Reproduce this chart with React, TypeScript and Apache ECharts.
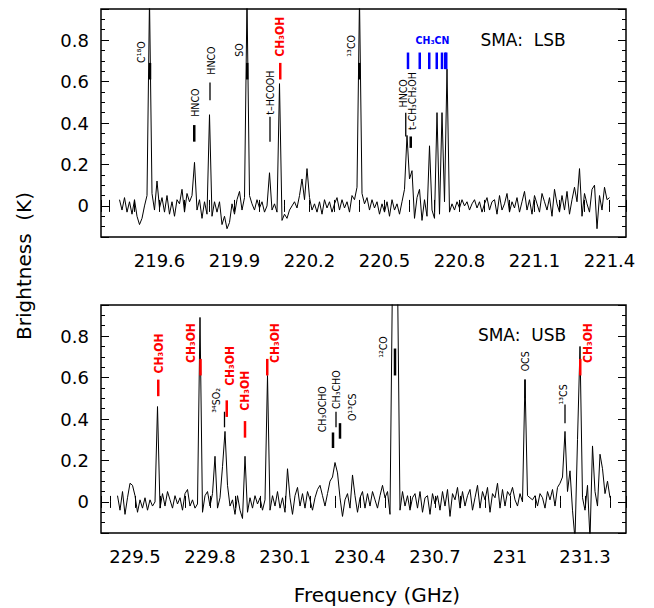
import React, { useEffect, useRef } from 'react';
import * as echarts from 'echarts';

// ---------------- data ----------------
const STEP = 0.01; // GHz per channel
const LSB_START = 219.44;
const USB_START = 229.43;

const LSB_VALUES = [
  0.03, -0.02, 0.04, -0.03, 0.02, -0.04, 0.03, -0.05, -0.09, -0.06,
  0.00, 0.05, 1.00, 0.06, -0.02, 0.12, -0.01, 0.04, -0.03, 0.05,
  -0.04, 0.02, -0.05, 0.03, 0.01, 0.08, -0.03, 0.06, 0.02, 0.05,
  0.21, -0.02, 0.03, -0.06, 0.02, -0.04, 0.44, -0.05, 0.02, -0.03,
  0.02, -0.09, -0.05, -0.11, -0.08, 0.01, -0.04, 0.03, 0.07, -0.02,
  0.04, 1.00, 0.05, 0.01, -0.02, 0.03, -0.01, 0.02, -0.03, 0.00,
  0.16, -0.02, 0.01, -0.03, 0.59, -0.07, -0.04, -0.06, -0.02, 0.00,
  0.02, -0.01, 0.05, 0.13, 0.03, 0.18, 0.04, -0.02, 0.01, -0.03,
  0.02, -0.04, 0.03, -0.01, 0.02, -0.03, 0.01, 0.04, -0.02, 0.03,
  -0.01, 0.02, -0.03, 0.05, 0.03, 0.09, 1.00, 0.06, 0.01, 0.04,
  -0.02, 0.03, -0.01, 0.02, -0.04, 0.01, -0.03, 0.02, -0.05, 0.03,
  -0.02, 0.01, -0.04, 0.02, 0.08, 0.34, 0.13, 0.17, -0.06, 0.04,
  0.08, -0.07, 0.03, -0.05, 0.29, -0.02, -0.06, 0.45, -0.04, 0.45,
  0.02, 0.66, -0.03, 0.01, -0.02, 0.02, -0.01, 0.03, 0.00, 0.02,
  -0.02, 0.01, 0.03, -0.01, 0.02, -0.03, 0.01, 0.04, -0.02, 0.02,
  0.03, -0.04, 0.05, -0.02, 0.01, 0.06, -0.03, 0.02, -0.01, 0.04,
  -0.03, 0.02, 0.07, -0.02, 0.03, -0.04, 0.05, 0.01, -0.03, 0.06,
  0.02, -0.02, 0.04, -0.05, 0.08, 0.01, -0.03, 0.05, -0.02, 0.07,
  -0.04, 0.03, 0.09, 0.02, 0.18, -0.05, 0.06, 0.01, -0.03, 0.08,
  0.10, -0.11, 0.05, -0.02, 0.09, 0.03, 0.04,
];

const USB_VALUES = [
  0.03, -0.04, 0.05, -0.06, 0.02, 0.09, 0.08, 0.03, -0.05, 0.01,
  -0.03, 0.02, -0.04, 0.01, -0.02, 0.00, 0.46, -0.03, 0.04, -0.02,
  0.05, 0.01, -0.03, 0.03, -0.01, 0.02, -0.04, 0.04, 0.06, -0.02,
  0.01, -0.03, -0.01, 0.89, -0.05, 0.03, 0.05, -0.02, 0.04, 0.22,
  -0.03, 0.02, 0.17, 0.34, 0.08, -0.02, 0.01, -0.06, 0.03, -0.04,
  -0.08, 0.22, -0.05, 0.02, -0.03, 0.03, -0.01, 0.02, -0.04, 0.01,
  0.61, -0.04, 0.03, -0.02, 0.05, -0.03, 0.02, -0.05, 0.16, 0.02,
  -0.06, 0.03, 0.07, -0.02, 0.04, -0.03, 0.05, 0.01, -0.04, 0.02,
  0.06, 0.08, 0.03, -0.02, 0.04, 0.10, 0.12, 0.19, 0.14, 0.02,
  -0.07, 0.01, 0.04, -0.03, 0.13, 0.03, -0.05, 0.02, 0.05, -0.03,
  0.04, -0.02, 0.05, 0.01, -0.03, 0.03, 0.08, 0.02, 0.05, -0.06,
  1.10, 1.20, 1.10, -0.04, 0.05, -0.02, 0.03, -0.04, 0.02, 0.04,
  -0.03, 0.05, -0.05, 0.02, 0.03, -0.06, 0.04, -0.01, 0.03, -0.04,
  0.05, -0.02, 0.06, -0.07, 0.04, 0.01, 0.07, -0.03, 0.05, -0.02,
  0.03, 0.06, -0.04, 0.02, 0.08, -0.03, 0.05, 0.01, 0.07, -0.05,
  0.04, 0.02, 0.09, -0.03, 0.06, -0.02, 0.05, 0.03, 0.07, 0.01,
  -0.02, 0.04, 0.00, 0.59, 0.03, 0.02, 0.01, 0.03, -0.02, 0.04,
  0.02, -0.03, 0.05, 0.01, 0.06, -0.02, 0.07, 0.09, 0.12, 0.34,
  0.05, 0.15, -0.04, -0.18, 0.30, 0.75, 0.02, -0.04, 0.08, -0.18,
  0.27, 0.05, -0.02, 0.23, 0.16, 0.04, 0.10, 0.02,
];

const LSB_RANGE = [219.366, 221.466];
const USB_RANGE = [229.364, 231.464];
const Y_RANGE = [-0.15, 0.95];

const LSB_TICK_LABELS = ['219.6', '219.9', '220.2', '220.5', '220.8', '221.1', '221.4'];
const USB_TICK_LABELS = ['229.5', '229.8', '230.1', '230.4', '230.7', '231', '231.3'];
const Y_TICK_LABELS = ['0', '0.2', '0.4', '0.6', '0.8'];

// line markers: [frequency, lower K, upper K]
const LSB_BOLD_MARKERS = [
  [219.562, 0.61, 0.69],
  [219.739, 0.31, 0.39],
  [219.951, 0.61, 0.69],
  [220.399, 0.61, 0.69],
  [220.605, 0.28, 0.335],
];
const LSB_THIN_MARKERS = [
  [219.802, 0.51, 0.595],
  [220.042, 0.31, 0.43],
  [220.585, 0.335, 0.45],
];
const LSB_RED_MARKERS = [[220.083, 0.61, 0.69]];
const LSB_BLUE_MARKERS = [
  [220.594, 0.66, 0.74],
  [220.641, 0.66, 0.74],
  [220.679, 0.66, 0.74],
  [220.709, 0.66, 0.74],
  [220.73, 0.66, 0.74],
  [220.743, 0.66, 0.74],
  [220.747, 0.66, 0.74],
];
const USB_BOLD_MARKERS = [
  [230.292, 0.26, 0.335],
  [230.32, 0.305, 0.38],
  [230.54, 0.61, 0.74],
];
const USB_THIN_MARKERS = [
  [229.858, 0.36, 0.435],
  [230.304, 0.36, 0.435],
  [231.06, 0.5, 0.59],
  [231.22, 0.38, 0.47],
];
const USB_RED_MARKERS = [
  [229.593, 0.51, 0.59],
  [229.762, 0.61, 0.69],
  [229.867, 0.41, 0.49],
  [229.94, 0.31, 0.39],
  [230.029, 0.61, 0.69],
  [231.281, 0.61, 0.69],
];

// line names: [frequency, K at label start, name]
const LSB_BLACK_NAMES: [number, number, string][] = [
  [219.526, 0.69, 'C¹⁸O'],
  [219.742, 0.43, 'HNCO'],
  [219.806, 0.633, 'HNCO'],
  [219.918, 0.72, 'SO'],
  [220.042, 0.44, 't–HCOOH'],
  [220.364, 0.72, '¹³CO'],
  [220.574, 0.475, 'HNCO'],
  [220.609, 0.366, 't–CH₃CH₂OH'],
];
const LSB_RED_NAMES: [number, number, string][] = [[220.082, 0.72, 'CH₃OH']];
const LSB_BLUE_NAMES: [number, number, string][] = [[220.692, 0.8, 'CH₃CN']];
const USB_BLACK_NAMES: [number, number, string][] = [
  [229.824, 0.43, '³⁴SO₂'],
  [230.248, 0.336, 'CH₃OCHO'],
  [230.305, 0.448, 'CH₃CHO'],
  [230.367, 0.39, 'O¹³CS'],
  [230.492, 0.695, '¹²CO'],
  [231.06, 0.63, 'OCS'],
  [231.213, 0.47, '¹³CS'],
];
const USB_RED_NAMES: [number, number, string][] = [
  [229.595, 0.62, 'CH₃OH'],
  [229.722, 0.67, 'CH₃OH'],
  [229.878, 0.56, 'CH₃OH'],
  [229.94, 0.44, 'CH₃OH'],
  [230.06, 0.67, 'CH₃OH'],
  [231.31, 0.67, 'CH₃OH'],
];

// ---------------- helpers ----------------
const RED = '#ff0000';
const BLUE = '#0000ff';
const TICK_FONT = 'DejaVu Sans';
const SMALL_FONT = '"DejaVu Sans Condensed", "Liberation Sans Narrow", "DejaVu Sans", sans-serif';

const spectrum = (start: number, values: number[]) =>
  values.map((v, i) => [Number((start + i * STEP).toFixed(3)), v]);

const matchLabel = (labels: string[], v: number) => {
  const t = labels.find((l) => Math.abs(parseFloat(l) - v) < 1e-6);
  return t === undefined ? '' : t;
};

const xAxis = (gridIndex: number, range: number[], labels: string[], position: string, showLabels: boolean) => ({
  type: 'value',
  gridIndex,
  position,
  min: range[0],
  max: range[1],
  minInterval: 0.1,
  maxInterval: 0.1,
  axisLine: { show: false },
  axisTick: { show: true, inside: true, length: 6, lineStyle: { color: '#000', width: 1 } },
  axisLabel: {
    show: showLabels,
    margin: 14,
    color: '#000',
    fontFamily: TICK_FONT,
    fontSize: 18,
    formatter: (v: number) => matchLabel(labels, v),
  },
  splitLine: { show: false },
});

const yAxis = (gridIndex: number, position: string, showLabels: boolean) => ({
  type: 'value',
  gridIndex,
  position,
  min: Y_RANGE[0],
  max: Y_RANGE[1],
  minInterval: 0.2,
  maxInterval: 0.2,
  axisLine: { show: false },
  axisTick: { show: true, inside: true, length: 8, lineStyle: { color: '#000', width: 1 } },
  minorTick: { show: true, splitNumber: 4, length: 4, lineStyle: { color: '#000', width: 1 } },
  axisLabel: {
    show: showLabels,
    margin: 12,
    color: '#000',
    fontFamily: TICK_FONT,
    fontSize: 18,
    formatter: (v: number) => matchLabel(Y_TICK_LABELS, v),
  },
  splitLine: { show: false },
  minorSplitLine: { show: false },
});

const markerSeries = (data: number[][], color: string, xi: number, yi: number, width: number) => ({
  type: 'custom',
  xAxisIndex: xi,
  yAxisIndex: yi,
  silent: true,
  z: 4,
  data,
  renderItem: (_params: any, api: any) => {
    const p1 = api.coord([api.value(0), api.value(1)]);
    const p2 = api.coord([api.value(0), api.value(2)]);
    return {
      type: 'line',
      shape: { x1: p1[0], y1: p1[1], x2: p2[0], y2: p2[1] },
      style: { stroke: color, lineWidth: width },
    };
  },
});

const nameSeries = (
  names: [number, number, string][],
  color: string,
  bold: boolean,
  xi: number,
  yi: number,
  vertical: boolean,
) => ({
  type: 'custom',
  xAxisIndex: xi,
  yAxisIndex: yi,
  silent: true,
  z: 5,
  data: names.map((n) => [n[0], n[1]]),
  renderItem: (params: any, api: any) => {
    const n = names[params.dataIndex];
    const p = api.coord([n[0], n[1]]);
    return {
      type: 'text',
      x: p[0],
      y: p[1],
      rotation: vertical ? Math.PI / 2 : 0,
      style: {
        text: n[2],
        fill: color,
        fontFamily: SMALL_FONT,
        fontSize: bold && vertical ? 12 : 10.5,
        fontWeight: bold ? 'bold' : 'normal',
        align: vertical ? 'left' : 'center',
        verticalAlign: 'middle',
      },
    };
  },
});

export default function App() {
  const ref = useRef<HTMLDivElement>(null);

  useEffect(() => {
    document.body.style.margin = '0';
    if (!ref.current) return;
    const chart = echarts.init(ref.current, undefined, { renderer: 'svg' });

    const gridBase = { left: 101, width: 525, height: 228, show: true, borderColor: '#000', borderWidth: 1.5, backgroundColor: 'transparent' };

    chart.setOption({
      animation: false,
      backgroundColor: '#fff',
      grid: [
        { ...gridBase, top: 9 },
        { ...gridBase, top: 305 },
      ],
      xAxis: [
        xAxis(0, LSB_RANGE, LSB_TICK_LABELS, 'bottom', true),
        xAxis(0, LSB_RANGE, LSB_TICK_LABELS, 'top', false),
        xAxis(1, USB_RANGE, USB_TICK_LABELS, 'bottom', true),
        xAxis(1, USB_RANGE, USB_TICK_LABELS, 'top', false),
      ],
      yAxis: [
        yAxis(0, 'left', true),
        yAxis(0, 'right', false),
        yAxis(1, 'left', true),
        yAxis(1, 'right', false),
      ],
      graphic: [
        {
          type: 'text',
          x: 24,
          y: 266,
          rotation: Math.PI / 2,
          style: { text: 'Brightness  (K)', fill: '#000', font: '20px "DejaVu Sans"', align: 'center', verticalAlign: 'middle' },
        },
        {
          type: 'text',
          x: 377,
          y: 595,
          style: { text: 'Frequency (GHz)', fill: '#000', font: '20px "DejaVu Sans"', align: 'center', verticalAlign: 'middle' },
        },
        {
          type: 'text',
          x: 523,
          y: 40,
          style: { text: 'SMA:  LSB', fill: '#000', font: '17px "DejaVu Sans"', align: 'center', verticalAlign: 'middle' },
        },
        {
          type: 'text',
          x: 522,
          y: 335,
          style: { text: 'SMA:  USB', fill: '#000', font: '17px "DejaVu Sans"', align: 'center', verticalAlign: 'middle' },
        },
      ],
      series: [
        {
          type: 'line',
          xAxisIndex: 0,
          yAxisIndex: 0,
          data: spectrum(LSB_START, LSB_VALUES),
          showSymbol: false,
          lineStyle: { color: '#000', width: 1 },
          clip: true,
          z: 3,
        },
        {
          type: 'line',
          xAxisIndex: 2,
          yAxisIndex: 2,
          data: spectrum(USB_START, USB_VALUES),
          showSymbol: false,
          lineStyle: { color: '#000', width: 1 },
          clip: true,
          z: 3,
        },
        markerSeries(LSB_BOLD_MARKERS, '#000', 0, 0, 2.5),
        markerSeries(LSB_THIN_MARKERS, '#000', 0, 0, 1.3),
        markerSeries(LSB_RED_MARKERS, RED, 0, 0, 2.5),
        markerSeries(LSB_BLUE_MARKERS, BLUE, 0, 0, 2.5),
        markerSeries(USB_BOLD_MARKERS, '#000', 2, 2, 2.5),
        markerSeries(USB_THIN_MARKERS, '#000', 2, 2, 1.3),
        markerSeries(USB_RED_MARKERS, RED, 2, 2, 2.5),
        nameSeries(LSB_BLACK_NAMES, '#000', false, 0, 0, true),
        nameSeries(LSB_RED_NAMES, RED, true, 0, 0, true),
        nameSeries(LSB_BLUE_NAMES, BLUE, true, 0, 0, false),
        nameSeries(USB_BLACK_NAMES, '#000', false, 2, 2, true),
        nameSeries(USB_RED_NAMES, RED, true, 2, 2, true),
      ],
    });

    return () => chart.dispose();
  }, []);

  return <div ref={ref} style={{ width: 654, height: 608 }} />;
}
